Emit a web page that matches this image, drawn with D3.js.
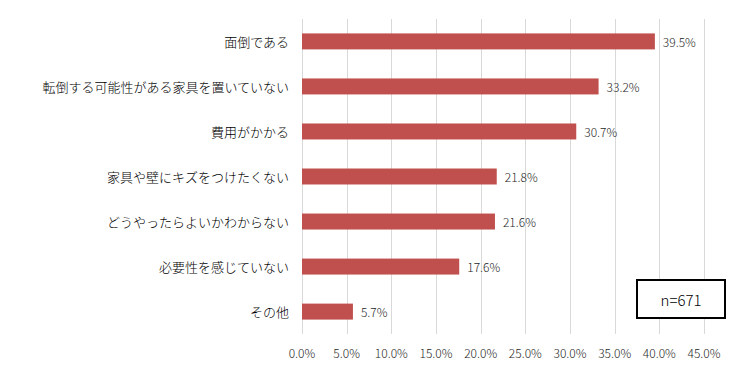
<!DOCTYPE html>
<html>
<head>
<meta charset="utf-8">
<script src="https://cdn.jsdelivr.net/npm/d3@7"></script>
<style>
  body { margin: 0; background: #fff; }
  text { font-family: "Noto Sans CJK JP", "Noto Sans", sans-serif; font-weight: 300; }
</style>
</head>
<body>
<svg id="chart" width="740" height="369"></svg>
<script>
const categories = [
  '面倒である',
  '転倒する可能性がある家具を置いていない',
  '費用がかかる',
  '家具や壁にキズをつけたくない',
  'どうやったらよいかわからない',
  '必要性を感じていない',
  'その他',
];
const values = [39.5, 33.2, 30.7, 21.8, 21.6, 17.6, 5.7];
const ticks = [0, 5, 10, 15, 20, 25, 30, 35, 40, 45];
const sampleLabel = 'n=671';

const svg = d3.select('#chart');
const margin = { top: 19, right: 36, bottom: 35, left: 302 };
const width = 740 - margin.left - margin.right;
const height = 369 - margin.top - margin.bottom;

const x = d3.scaleLinear().domain([0, 45]).range([0, width]);
const y = d3.scaleBand().domain(categories).range([0, height]).paddingInner(0.645).paddingOuter(0.32);

const g = svg.append('g').attr('transform', `translate(${margin.left},${margin.top})`);

// gridlines
g.selectAll('.grid')
  .data(ticks)
  .enter()
  .append('line')
  .attr('x1', (d) => Math.round(x(d)) + 0.5)
  .attr('x2', (d) => Math.round(x(d)) + 0.5)
  .attr('y1', 0)
  .attr('y2', height)
  .attr('stroke', '#d9d9d9')
  .attr('stroke-width', 1);

// bars
g.selectAll('.bar')
  .data(values)
  .enter()
  .append('rect')
  .attr('x', 0)
  .attr('y', (d, i) => y(categories[i]))
  .attr('width', (d) => x(d))
  .attr('height', y.bandwidth())
  .attr('fill', '#c0504d');

// value labels
g.selectAll('.val')
  .data(values)
  .enter()
  .append('text')
  .attr('x', (d) => x(d) + 8)
  .attr('y', (d, i) => y(categories[i]) + y.bandwidth() / 2)
  .attr('dominant-baseline', 'central')
  .style('font-size', '12px')
  .style('fill', '#262626')
  .text((d) => `${d.toFixed(1)}%`);

// category labels
g.selectAll('.cat')
  .data(categories)
  .enter()
  .append('text')
  .attr('x', -13)
  .attr('y', (d) => y(d) + y.bandwidth() / 2)
  .attr('dominant-baseline', 'central')
  .attr('text-anchor', 'end')
  .style('font-size', '13px')
  .style('fill', '#000')
  .text((d) => d);

// x axis tick labels
g.selectAll('.tick-label')
  .data(ticks)
  .enter()
  .append('text')
  .attr('x', (d) => x(d))
  .attr('y', height + 18)
  .attr('dominant-baseline', 'central')
  .attr('text-anchor', 'middle')
  .style('font-size', '12px')
  .style('fill', '#262626')
  .text((d) => `${d.toFixed(1)}%`);

// n box
const box = svg.append('g');
box.append('rect')
  .attr('x', 637)
  .attr('y', 280)
  .attr('width', 88)
  .attr('height', 38)
  .attr('fill', '#fff')
  .attr('stroke', '#000')
  .attr('stroke-width', 2);
box.append('text')
  .attr('x', 681)
  .attr('y', 299)
  .attr('dominant-baseline', 'central')
  .attr('text-anchor', 'middle')
  .style('font-size', '15px')
  .style('fill', '#000')
  .text(sampleLabel);
</script>
</body>
</html>
